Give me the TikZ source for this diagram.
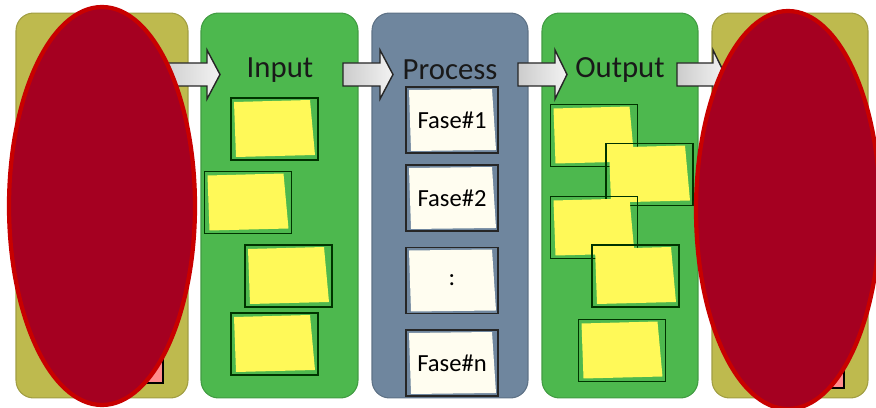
\documentclass[tikz,border=0pt]{standalone}
\usepackage{fontspec}
\setmainfont{Carlito}
\usetikzlibrary{calc}
\definecolor{olive}{RGB}{190,186,78}
\definecolor{leaf}{RGB}{77,184,78}
\definecolor{slate}{RGB}{111,134,158}
\definecolor{noteyellow}{RGB}{255,249,88}
\definecolor{cream}{RGB}{255,253,240}
\definecolor{blob}{RGB}{165,0,33}
\definecolor{blobedge}{RGB}{200,0,0}
\tikzset{
   panel/.style={draw=#1!85!black, fill=#1, rounded corners=10pt, line width=0.6pt,
      minimum height=7.7cm, inner sep=0pt},
   note/.style={draw=black!80!green, line width=0.9pt, minimum width=1.74cm,
      minimum height=1.24cm, inner sep=0pt,
      path picture={
        \fill[noteyellow] ($(path picture bounding box.north west)+(3,4)$)
          -- ($(path picture bounding box.north east)+(-8,2)$)
          -- ($(path picture bounding box.south east)+(-3,-5)$)
          -- ($(path picture bounding box.south west)+(5,-3)$) -- cycle;}},
   fase/.style={draw=black!85, fill=slate, line width=0.9pt, minimum width=1.84cm,
      minimum height=1.32cm, inner sep=0pt, font=\fontsize{14}{16}\selectfont,
      path picture={
        \fill[cream] ($(path picture bounding box.north west)+(3,3)$)
          -- ($(path picture bounding box.north east)+(-6,2)$)
          -- ($(path picture bounding box.south east)+(-2,-3)$)
          -- ($(path picture bounding box.south west)+(5,-2)$) -- cycle;}},
   title/.style={font=\fontsize{17.5}{20}\selectfont, text=black!90},
   bigarrow/.style={draw=black!85, line width=0.8pt, left color=gray!40,
      right color=gray!10},
   redblob/.style={fill=blob, draw=blobedge, line width=2.4pt},
}
\begin{document}
\begin{tikzpicture}[x=0.02cm, y=-0.02cm]
  \useasboundingbox[fill=white] (0,0) rectangle (876,408);
  % columns
  \node[panel=olive, minimum width=3.44cm] (src) at (102,205.5) {};
  \node[panel=leaf, minimum width=3.14cm] (inp) at (279.5,205.5) {};
  \node[panel=slate, minimum width=3.12cm] (proc) at (450,205.5) {};
  \node[panel=leaf, minimum width=3.12cm] (outp) at (620,205.5) {};
  \node[panel=olive, minimum width=3.12cm] (dst) at (790,205.5) {};
  % hidden bits in the outer columns
  \draw[fill=red!45!white, line width=0.8pt] (120,330) rectangle (163,383);
  \draw[fill=red!45!white, line width=0.8pt] (800,335) rectangle (844,388);
  % block arrows between the columns
  \foreach \xa/\xb/\xc in {160/207/220, 343/380/393, 518/555/567, 677/713/725}
     \draw[bigarrow] (\xa,63) -- (\xb,63) -- (\xb,50) -- (\xc,74.5)
        -- (\xb,99) -- (\xb,86) -- (\xa,86) -- cycle;
  % titles
  \node[title] (tinp) at (280,70) {Input};
  \node[title] (tproc) at (450,70) {Process};
  \node[title] (toutp) at (620,70) {Output};
  % input notes
  \node[note] (in1) at (274.5,129) {};
  \node[note] (in2) at (248,202.5) {};
  \node[note] (in3) at (288.5,276) {};
  \node[note] (in4) at (274.5,344) {};
  % process steps
  \node[fase] (f1) at (452,120) {Fase\#1};
  \node[fase] (f2) at (452,198) {Fase\#2};
  \node[fase] (f3) at (452,280.5) {:};
  \node[fase] (fn) at (452,363) {Fase\#n};
  % output notes
  \node[note] (out1) at (594,135.5) {};
  \node[note] (out2) at (649.5,174.5) {};
  \node[note] (out3) at (594,227.5) {};
  \node[note] (out4) at (635.5,276) {};
  \node[note] (out5) at (622,350.5) {};
  % covers
  \draw[redblob] (102,206) ellipse [x radius=93, y radius=199];
  \draw[redblob] (788,210) ellipse [x radius=92, y radius=199];
\end{tikzpicture}
\end{document}
